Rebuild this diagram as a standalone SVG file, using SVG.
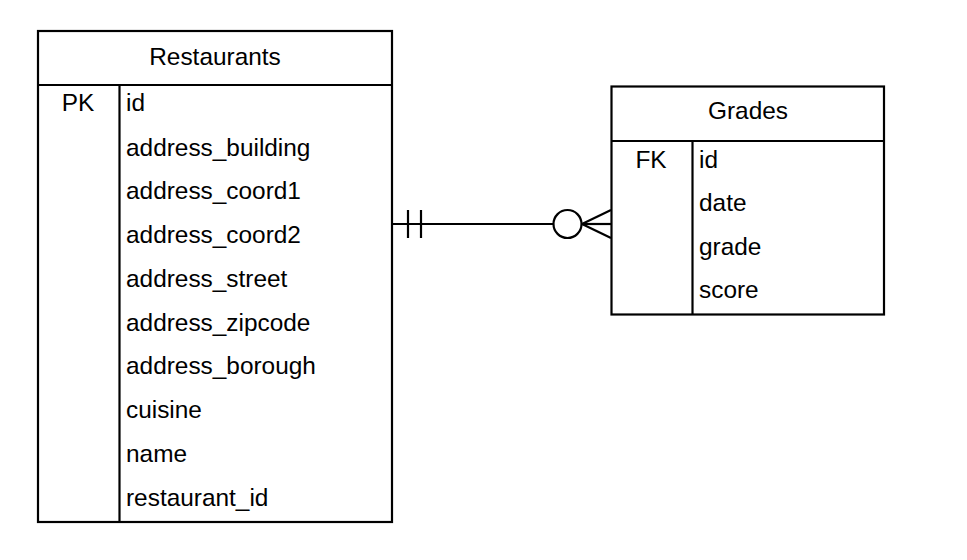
<svg xmlns="http://www.w3.org/2000/svg" width="967" height="560" viewBox="0 0 967 560">
<style>
.box{fill:#fff;stroke:#000;stroke-width:2.2}
.ln{stroke:#000;stroke-width:2.2;fill:none}
text{font-family:"Liberation Sans",Arial,sans-serif;font-size:24.4px;fill:#000}
.c{text-anchor:middle}
</style>
<rect width="967" height="560" fill="#fff"/>
<g id="restaurants">
<rect class="box" x="38" y="31" width="354" height="491"/>
<line class="ln" x1="38" y1="85" x2="392" y2="85"/>
<line class="ln" x1="119.5" y1="85" x2="119.5" y2="522"/>
<text class="c" x="215" y="64.5">Restaurants</text>
<text class="c" x="78" y="110.5">PK</text>
<text x="126" y="110.5">id</text>
<text x="126" y="155.5">address_building</text>
<text x="126" y="199">address_coord1</text>
<text x="126" y="243">address_coord2</text>
<text x="126" y="286.5">address_street</text>
<text x="126" y="330.5">address_zipcode</text>
<text x="126" y="374">address_borough</text>
<text x="126" y="418">cuisine</text>
<text x="126" y="462">name</text>
<text x="126" y="505.5">restaurant_id</text>
</g>
<g id="grades">
<rect class="box" x="611.5" y="86.5" width="272.5" height="228"/>
<line class="ln" x1="611.5" y1="141" x2="884" y2="141"/>
<line class="ln" x1="692.5" y1="141" x2="692.5" y2="314.5"/>
<text class="c" x="748" y="118.5">Grades</text>
<text class="c" x="651" y="167.5">FK</text>
<text x="699" y="167.5">id</text>
<text x="699" y="211">date</text>
<text x="699" y="255">grade</text>
<text x="699" y="298">score</text>
</g>
<g id="connectors">
<line class="ln" x1="392" y1="224" x2="553" y2="224"/>
<line class="ln" x1="408" y1="210" x2="408" y2="238"/>
<line class="ln" x1="421" y1="210" x2="421" y2="238"/>
<circle class="ln" cx="567.5" cy="224" r="14"/>
<line class="ln" x1="582" y1="224" x2="611" y2="224"/>
<line class="ln" x1="582" y1="224" x2="611" y2="210"/>
<line class="ln" x1="582" y1="224" x2="611" y2="238"/>
</g>
</svg>
